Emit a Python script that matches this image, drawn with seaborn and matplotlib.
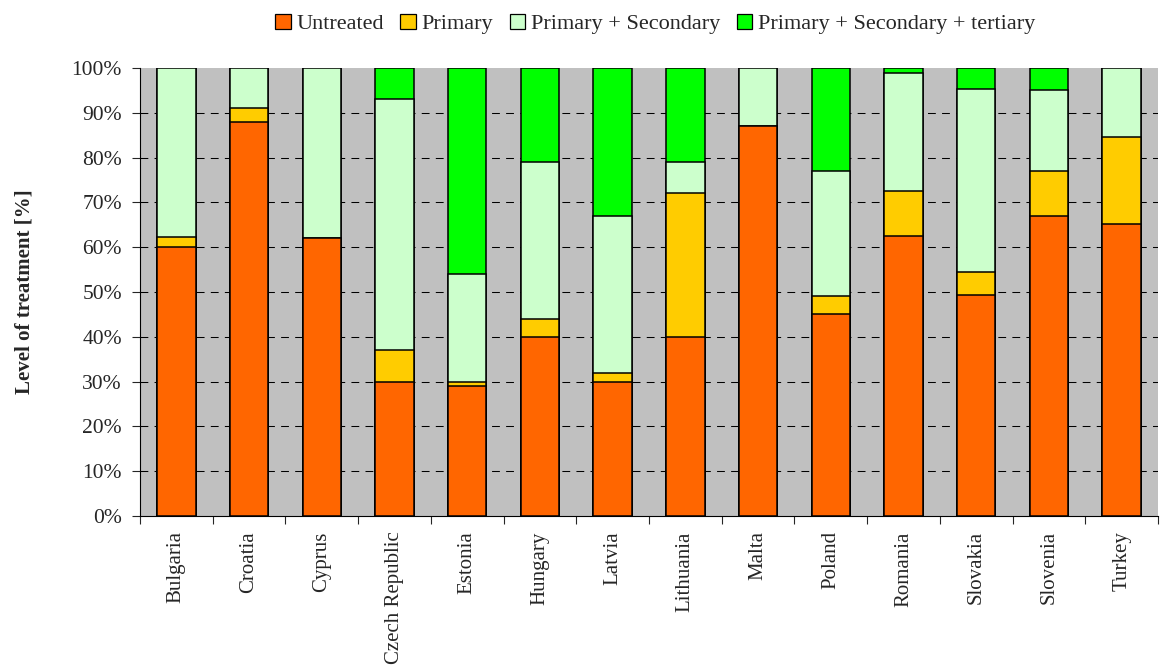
import matplotlib
matplotlib.use("Agg")
import matplotlib.pyplot as plt
import matplotlib.patches as mpatches
from matplotlib.ticker import PercentFormatter, FixedLocator
import numpy as np
import pandas as pd
import seaborn as sns

countries = ["Bulgaria", "Croatia", "Cyprus", "Czech Republic", "Estonia",
             "Hungary", "Latvia", "Lithuania", "Malta", "Poland", "Romania",
             "Slovakia", "Slovenia", "Turkey"]
untreated = [60, 88, 62, 30, 29, 40, 30, 40, 87, 45, 62.5, 49.3, 67, 65.2]
primary = [2.2, 3, 0, 7, 1, 4, 2, 32, 0, 4, 10.1, 5.1, 10, 19.5]
secondary = [37.8, 9, 38, 56, 24, 35, 35, 7, 13, 28, 26.2, 41, 18, 15.3]
tertiary = [0, 0, 0, 7, 46, 21, 33, 21, 0, 23, 1.2, 4.6, 5, 0]

series = ["Untreated", "Primary", "Primary + Secondary",
          "Primary + Secondary + tertiary"]
colors = ["#FF6600", "#FFCC00", "#CCFFCC", "#00FF00"]

df = pd.DataFrame({"country": countries, series[0]: untreated,
                   series[1]: primary, series[2]: secondary,
                   series[3]: tertiary})
# stacked bars: draw cumulative totals from the top layer downwards
cum = df[series].cumsum(axis=1)

sns.set_style("ticks")
plt.rcParams["font.family"] = ["Liberation Serif", "DejaVu Serif"]

fig = plt.figure(figsize=(11.61, 6.66), dpi=100)
ax = fig.add_axes([140 / 1161, 1 - 516 / 666, (1158 - 140) / 1161,
                   (516 - 68) / 666])
ax.set_facecolor("#C0C0C0")

for name, col in reversed(list(zip(series, colors))):
    sns.barplot(x=df["country"], y=cum[name], color=col, width=0.53,
                edgecolor="black", linewidth=1.1, saturation=1, ax=ax,
                zorder=3)

ax.set_ylim(0, 100)
ax.set_xlim(-0.5, len(countries) - 0.5)
ax.yaxis.set_major_locator(FixedLocator(np.arange(0, 101, 10)))
ax.yaxis.set_major_formatter(PercentFormatter(decimals=0))
for y in range(10, 100, 10):
    ax.axhline(y, color="black", lw=0.75, ls=(0, (7.5, 6)), zorder=1)

ax.xaxis.set_minor_locator(FixedLocator(np.arange(-0.5, len(countries), 1)))
ax.tick_params(axis="x", which="major", length=0, pad=11, labelsize=15,
               labelrotation=90)
ax.tick_params(axis="x", which="minor", length=6, width=0.8)
ax.tick_params(axis="y", length=6, width=0.8, labelsize=15.5, pad=7)
for lab in ax.get_xticklabels():
    lab.set_va("top")

ax.set_xlabel("")
ax.set_ylabel("Level of treatment [%]", fontsize=15, fontweight="bold")
ax.yaxis.set_label_coords(-105 / 1018, 0.5)
for s in ["top", "right"]:
    ax.spines[s].set_visible(False)
for s in ["left", "bottom"]:
    ax.spines[s].set_color("black")
    ax.spines[s].set_linewidth(0.8)

handles = [mpatches.Patch(facecolor=c, edgecolor="black", linewidth=0.9,
                          label=n) for n, c in zip(series, colors)]
fig.legend(handles=handles, loc="center", bbox_to_anchor=(655 / 1161, 1 - 24 / 666),
           ncol=4, frameon=False, fontsize=16, handlelength=0.7,
           handleheight=0.7, handletextpad=0.25, columnspacing=0.75)

fig.savefig("out.png", dpi=100)
